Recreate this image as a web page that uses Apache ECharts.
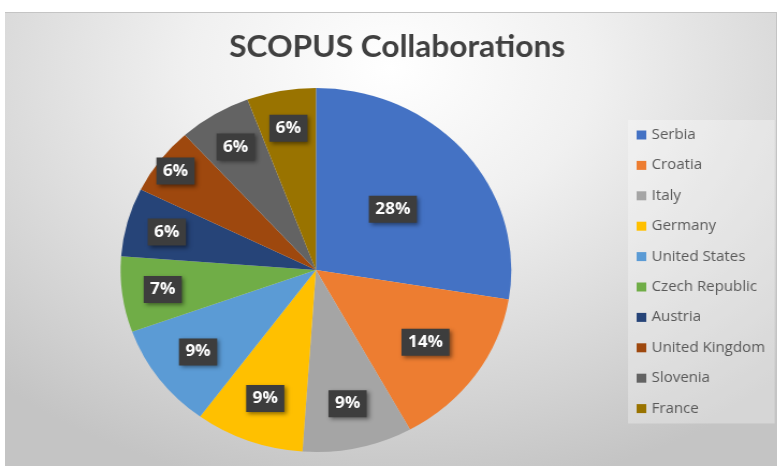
<!DOCTYPE html>
<html>
<head>
<meta charset="utf-8">
<script src="https://cdn.jsdelivr.net/npm/echarts@6/dist/echarts.min.js"></script>
<style>
  html, body { margin: 0; padding: 0; background: #ffffff; }
  body { width: 777px; height: 466px; position: relative; overflow: hidden; }
  .frame {
    position: absolute; left: 5px; top: 12px; width: 772px; height: 454px;
    box-sizing: border-box;
    border-top: 1px solid #c4c4c4;
    border-right: 1px solid #c4c4c4;
    background: radial-gradient(ellipse 75% 95% at 50% 12%, #ffffff 0%, #f0f0f0 35%, #d2d2d2 80%, #c4c4c4 100%);
  }
  /* the source picture is stretched sideways, so the chart is too */
  #chart {
    position: absolute; left: 0; top: 0; width: 724px; height: 466px;
    transform: scaleX(1.0735); transform-origin: 0 0;
  }
</style>
</head>
<body>
<div class="frame"></div>
<div id="chart"></div>
<script>
const countries = ['Serbia', 'Croatia', 'Italy', 'Germany', 'United States',
  'Czech Republic', 'Austria', 'United Kingdom', 'Slovenia', 'France']
const shares = [27.6, 14.4, 9.1, 9.0, 9.4, 6.7, 6.1, 6.0, 6.0, 5.7]
const colors = ['#4472C4', '#ED7D31', '#A5A5A5', '#FFC000', '#5B9BD5',
  '#70AD47', '#264478', '#9E480E', '#636363', '#997300']

// Excel "best fit" puts the labels at different depths: one ring per depth
const labelRing = [0, 1, 2, 2, 2, 3, 3, 4, 3, 3]
const ringInner = [0, 62, 86, 100, 140]

const labelStyle = {
  show: true,
  position: 'inside',
  formatter: '{d}%',
  fontFamily: 'Open Sans',
  fontWeight: 'bold',
  fontSize: 16,
  lineHeight: 17,
  color: '#ffffff',
  backgroundColor: '#3d3d3d',
  padding: [5, 6, 5, 6],
  shadowColor: 'rgba(0,0,0,0.45)',
  shadowBlur: 4,
  shadowOffsetX: 2,
  shadowOffsetY: 2
}

function ring(idx) {
  return {
    type: 'pie',
    center: [294.3, 270],
    radius: [ringInner[idx], 182],
    startAngle: 90,
    clockwise: true,
    silent: true,
    percentPrecision: 0,
    z: idx === 0 ? 2 : 3,
    data: countries.map((name, i) => ({
      name,
      value: shares[i],
      itemStyle: { color: idx === 0 ? colors[i] : 'transparent' },
      label: { show: labelRing[i] === idx }
    })),
    itemStyle: { borderWidth: 0 },
    label: labelStyle,
    labelLine: { show: false }
  }
}

const chart = echarts.init(document.getElementById('chart'))

chart.setOption({
  backgroundColor: 'transparent',
  animation: false,
  title: {
    text: 'SCOPUS Collaborations',
    left: 365,
    textAlign: 'center',
    top: 27,
    textStyle: {
      fontFamily: 'Lato',
      fontWeight: 'bold',
      fontSize: 29.5,
      color: '#404040'
    }
  },
  legend: {
    orient: 'vertical',
    left: 585,
    top: 120,
    data: countries,
    icon: 'rect',
    itemWidth: 9,
    itemHeight: 9,
    itemGap: 16.4,
    padding: [8, 9, 8, 8],
    backgroundColor: 'rgba(255,255,255,0.3)',
    selectedMode: false,
    textStyle: {
      fontFamily: 'Open Sans',
      fontSize: 14,
      lineHeight: 14,
      color: '#595959'
    }
  },
  series: ringInner.map((r, idx) => ring(idx))
})
</script>
</body>
</html>
